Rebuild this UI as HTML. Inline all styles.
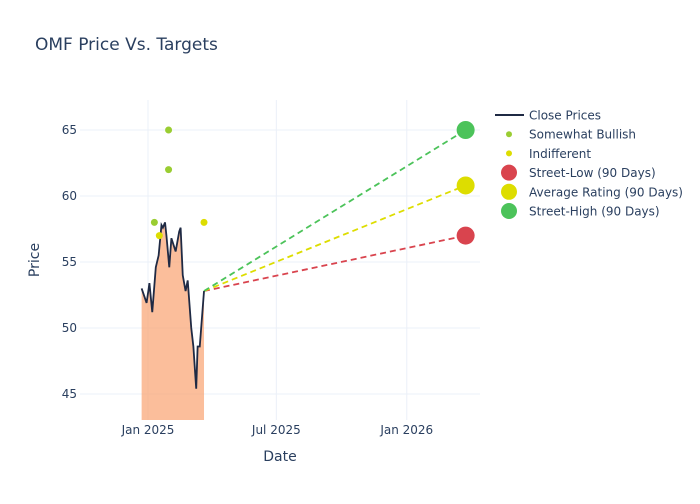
<!DOCTYPE html>
<html><head><meta charset="utf-8"><style>
body{margin:0;background:#fff;font-family:"DejaVu Sans",sans-serif}
svg text{font-family:"DejaVu Sans",sans-serif;fill:#2a3f5f}
</style></head><body>
<svg id="c" width="700" height="500"></svg>
<script>
const closeDates=["2024-12-23","2024-12-30","2025-01-02","2025-01-03","2025-01-07","2025-01-12","2025-01-16","2025-01-20","2025-01-22","2025-01-25","2025-01-27","2025-01-31","2025-02-03","2025-02-09","2025-02-14","2025-02-16","2025-02-19","2025-02-23","2025-02-26","2025-03-03","2025-03-06","2025-03-10","2025-03-12","2025-03-15","2025-03-21"];
const closePrices=[53.0,51.9,53.0,53.4,51.2,54.6,55.5,57.8,57.6,58.0,57.0,54.6,56.8,55.8,57.3,57.6,54.0,52.8,53.6,50.0,48.6,45.4,48.6,48.6,52.8];
const bullishDates=["2025-01-10","2025-01-30","2025-01-30"];
const bullishPrices=[58,65,62];
const indifferentDates=["2025-01-17","2025-03-21"];
const indifferentPrices=[57,58];
const targetDate="2026-03-25";
const targetNames=["Street-Low (90 Days)","Average Rating (90 Days)","Street-High (90 Days)"];
const targetValues=[57,60.8,65];
const yTicks=[45,50,55,60,65];
const xTickDates=["2025-01-01","2025-07-01","2026-01-01"];
const xTickLabels=["Jan 2025","Jul 2025","Jan 2026"];

const NS="http://www.w3.org/2000/svg";
const svg=document.getElementById('c');
function el(t,a,p){const e=document.createElementNS(NS,t);for(const k in a)e.setAttribute(k,a[k]);(p||svg).appendChild(e);return e;}
const L=80,R=480,T=100,B=420;
const d0=Date.UTC(2025,0,1);
function days(s){const [y,m,d]=s.split('-').map(Number);return (Date.UTC(y,m-1,d)-d0)/86400000;}
const X=s=>148+days(s)*0.709;
const Y=v=>130+(65-v)*13.2;

let t=el('text',{x:35,y:50,'font-size':17});t.textContent="OMF Price Vs. Targets";



yTicks.forEach(v=>{
 const g=el('line',{x1:L,x2:R,y1:Y(v),y2:Y(v),stroke:'#ebf0f8','stroke-width':1});
 
 
 const tx=el('text',{x:L-3,y:Y(v)+4,'font-size':12,'text-anchor':'end'});tx.textContent=v;
 
 
});
xTickDates.forEach((d,i)=>{
 const g=el('line',{x1:X(d),x2:X(d),y1:T,y2:B,stroke:'#ebf0f8','stroke-width':1});
 
 
 const tx=el('text',{x:X(d),y:B+14,'font-size':12,'text-anchor':'middle'});tx.textContent=xTickLabels[i];
 
 
});
let xt=el('text',{x:280,y:461,'font-size':14,'text-anchor':'middle'});xt.textContent="Date";


let yt=el('text',{x:39,y:260,'font-size':14,'text-anchor':'middle',transform:'rotate(-90 39 260)'});yt.textContent="Price";



const pts=closeDates.map((d,i)=>[X(d),Y(closePrices[i])]);
const area=el('path',{d:'M'+pts[0][0]+','+B+' L'+pts.map(p=>p.join(',')).join(' L')+' L'+pts[pts.length-1][0]+','+B+' Z',fill:'#f9a87a','fill-opacity':0.75});



const tColors=['#d9444e','#dddd00','#4cc35a'];
const last=pts[pts.length-1];
targetValues.forEach((v,i)=>{
 const l=el('line',{x1:last[0],y1:last[1],x2:X(targetDate),y2:Y(v),stroke:tColors[i],'stroke-width':1.8,'stroke-dasharray':'6,4'});
 
 
});
const line=el('polyline',{points:pts.map(p=>p.join(',')).join(' '),fill:'none',stroke:'#1f2a44','stroke-width':1.8});



bullishDates.forEach((d,i)=>{
 const c=el('circle',{cx:X(d),cy:Y(bullishPrices[i]),r:3.5,fill:'#9acd32'});
 
 
});
indifferentDates.forEach((d,i)=>{
 const c=el('circle',{cx:X(d),cy:Y(indifferentPrices[i]),r:3.5,fill:'#dddd00'});
 
 
});
targetValues.forEach((v,i)=>{
 const c=el('circle',{cx:X(targetDate),cy:Y(v),r:9,fill:tColors[i]});
 
 
});

const legNames=["Close Prices","Somewhat Bullish","Indifferent"].concat(targetNames);
legNames.forEach((n,i)=>{
 const y=115+i*19.2;
 const g=el('g',{});
 
 
 if(i===0) el('line',{x1:495,x2:524,y1:y,y2:y,stroke:'#1f2a44','stroke-width':2},g);
 else if(i<3) el('circle',{cx:509,cy:y,r:3,fill:i===1?'#9acd32':'#dddd00'},g);
 else el('circle',{cx:509,cy:y,r:8,fill:tColors[i-3]},g);
 const tx=el('text',{x:529,y:y+4.5,'font-size':12},g);tx.textContent=n;
});
</script>
</body></html>
